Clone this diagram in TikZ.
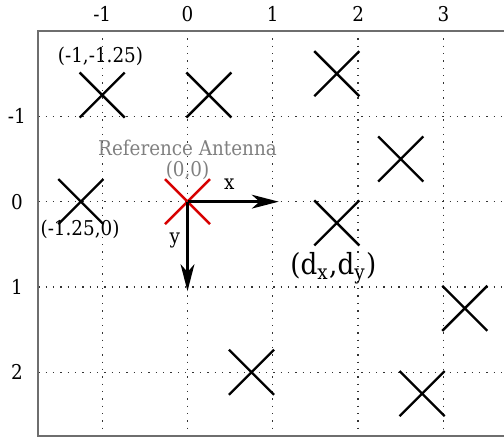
\documentclass[tikz,border=0pt]{standalone}
\usepackage{fontspec}
\setmainfont{DejaVu Serif Condensed}
\usetikzlibrary{shapes.misc,arrows.meta}
\definecolor{framegray}{RGB}{110,110,110}
\definecolor{labgray}{RGB}{128,128,128}
\definecolor{refred}{RGB}{215,0,0}
\begin{document}
\begin{tikzpicture}[x=1cm,y=-1cm,
  ant/.style={cross out,draw,line width=0.8pt,minimum size=0.5cm,inner sep=0pt},
  gridl/.style={dotted,line width=0.45pt,black!80},
  tick/.style={font=\fontsize{6.8}{8}\selectfont},
  coordlab/.style={font=\fontsize{6.8}{8}\selectfont},
  axarrow/.style={line width=0.95pt,-{Stealth[length=9pt,width=4.6pt,inset=2.6pt]}}]
\useasboundingbox (-2.198,-2.364) rectangle (3.71,2.83);
\clip (-2.198,-2.364) rectangle (3.71,2.83);
% grid
\foreach \i in {-1,0,1,2,3} \draw[gridl] (\i,-2) -- (\i,2.75);
\foreach \j in {-1,0,1,2} \draw[gridl] (-1.75,\j) -- (3.75,\j);
\draw[framegray,line width=0.6pt] (-1.75,-2) rectangle (3.75,2.75);
% ticks
\foreach \i in {-1,0,1,2,3} \node[tick] (tx\i) at (\i,-2.2) {\i};
\foreach \j in {-1,0,1,2} \node[tick] (ty\j) at (-2.0,\j) {\j};
% antennas
\node[ant] (a1) at (-1,-1.25) {};
\node[ant] (a2) at (0.25,-1.25) {};
\node[ant] (a3) at (1.75,-1.5) {};
\node[ant] (a4) at (2.5,-0.5) {};
\node[ant] (a5) at (-1.25,0) {};
\node[ant] (a6) at (1.75,0.25) {};
\node[ant] (a7) at (3.25,1.25) {};
\node[ant] (a8) at (0.75,2) {};
\node[ant] (a9) at (2.75,2.25) {};
\node[ant,draw=refred] (ref) at (0,0) {};
% axes
\coordinate (xe) at (1.07,0);
\coordinate (ye) at (0,1.05);
\draw[axarrow] (ref.center) -- (xe);
\draw[axarrow] (ref.center) -- (ye);
\node[coordlab] (xl) at (0.49,-0.2) {x};
\node[coordlab] (yl) at (-0.15,0.45) {y};
% labels
\node[coordlab] (l1) at (-1.02,-1.7) {(-1,-1.25)};
\node[coordlab] (l5) at (-1.26,0.33) {(-1.25,0)};
\node[coordlab,text=labgray] (lref) at (0,-0.63) {Reference Antenna};
\node[coordlab,text=labgray] (lref2) at (0,-0.37) {(0,0)};
\node[font=\fontsize{9.7}{11}\selectfont] (ld) at (1.71,0.78) {(d$_\mathrm{x}$,d$_\mathrm{y}$)};
\end{tikzpicture}
\end{document}
